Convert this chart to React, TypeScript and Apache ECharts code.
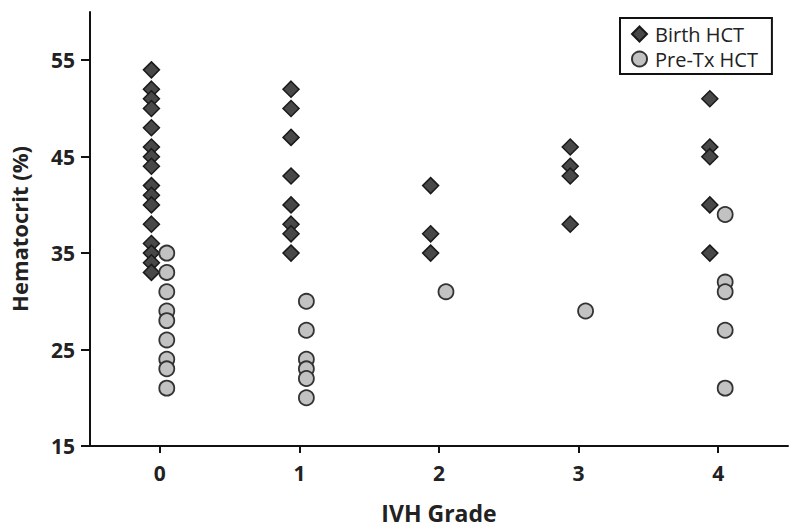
import React, { useEffect, useRef } from "react";
import * as echarts from "echarts";

const grades = [0, 1, 2, 3, 4];
const xTickLabels = ["0", "1", "2", "3", "4"];
const yTicks = [15, 25, 35, 45, 55];

// Birth HCT values per IVH grade
const birthG0 = [54, 52, 51, 50, 48, 46, 45, 44, 42, 41, 40, 38, 36, 35, 34, 33];
const birthG1 = [52, 50, 47, 43, 40, 38, 37, 35];
const birthG2 = [42, 37, 35];
const birthG3 = [46, 44, 43, 38];
const birthG4 = [51, 46, 45, 40, 35];

// Pre-Tx HCT values per IVH grade
const preG0 = [35, 33, 31, 29, 28, 26, 24, 23, 21];
const preG1 = [30, 27, 24, 23, 22, 20];
const preG2 = [31];
const preG3 = [29];
const preG4 = [39, 32, 31, 27, 21];

const birthByGrade = [birthG0, birthG1, birthG2, birthG3, birthG4];
const preByGrade = [preG0, preG1, preG2, preG3, preG4];

const FONT = "'Open Sans', 'Liberation Sans', sans-serif";

export default function App() {
  const ref = useRef<HTMLDivElement>(null);
  useEffect(() => {
    if (!ref.current) return;
    const chart = echarts.init(ref.current, undefined, { renderer: "svg" });
    const birthData: number[][] = [];
    const preData: number[][] = [];
    grades.forEach((g, i) => {
      birthByGrade[i].forEach((v) => birthData.push([g - 0.06, v]));
      preByGrade[i].forEach((v) => preData.push([g + 0.05, v]));
    });
    chart.setOption({
      animation: false,
      backgroundColor: "#ffffff",
      grid: { left: 88, right: 12, top: 12, bottom: 81, containLabel: false },
      legend: {
        orient: "vertical",
        left: 620,
        top: 18,
        padding: [6, 14, 5, 11],
        itemGap: 5,
        itemWidth: 15,
        itemHeight: 15,
        borderColor: "#111",
        borderWidth: 2,
        textStyle: { fontFamily: FONT, fontSize: 20, color: "#222", padding: [0, 0, 0, 3] },
        data: [
          { name: "Birth HCT", icon: "diamond" },
          { name: "Pre-Tx HCT", icon: "circle" },
        ],
      },
      xAxis: {
        type: "value",
        min: -0.5,
        max: 4.5,
        name: "IVH Grade",
        nameLocation: "middle",
        nameGap: 55,
        nameTextStyle: { fontFamily: FONT, fontSize: 23, fontWeight: "bold", color: "#222" },
        axisLine: { show: true, onZero: false, lineStyle: { color: "#111", width: 2 } },
        axisTick: {
          show: true,
          length: 7,
          lineStyle: { color: "#111", width: 2 },
          customValues: grades,
        },
        axisLabel: {
          fontFamily: FONT,
          fontSize: 21,
          fontWeight: "bold",
          color: "#222",
          margin: 16,
          customValues: grades,
          formatter: (v: number) => xTickLabels[grades.indexOf(Math.round(v))] ?? "",
        },
        splitLine: { show: false },
      },
      yAxis: {
        type: "value",
        min: 15,
        max: 60,
        name: "Hematocrit (%)",
        nameLocation: "middle",
        nameGap: 60,
        nameTextStyle: { fontFamily: FONT, fontSize: 22, fontWeight: "bold", color: "#222" },
        axisLine: { show: true, onZero: false, lineStyle: { color: "#111", width: 2 } },
        axisTick: {
          show: true,
          length: 9,
          lineStyle: { color: "#111", width: 2 },
          customValues: yTicks,
        },
        axisLabel: {
          fontFamily: FONT,
          fontSize: 21,
          fontWeight: "bold",
          color: "#222",
          margin: 15,
          customValues: yTicks,
        },
        splitLine: { show: false },
      },
      series: [
        {
          name: "Birth HCT",
          type: "scatter",
          symbol: "diamond",
          symbolSize: 16,
          data: birthData,
          itemStyle: { color: "#484848", borderColor: "#1a1a1a", borderWidth: 1.5, opacity: 1 },
        },
        {
          name: "Pre-Tx HCT",
          type: "scatter",
          symbol: "circle",
          symbolSize: 15,
          data: preData,
          itemStyle: { color: "#c2c2c2", borderColor: "#333", borderWidth: 1.8, opacity: 1 },
        },
      ],
    });
    return () => chart.dispose();
  }, []);
  return (
    <div
      ref={ref}
      style={{ width: 800, height: 529, position: "absolute", left: 0, top: 0 }}
    />
  );
}
